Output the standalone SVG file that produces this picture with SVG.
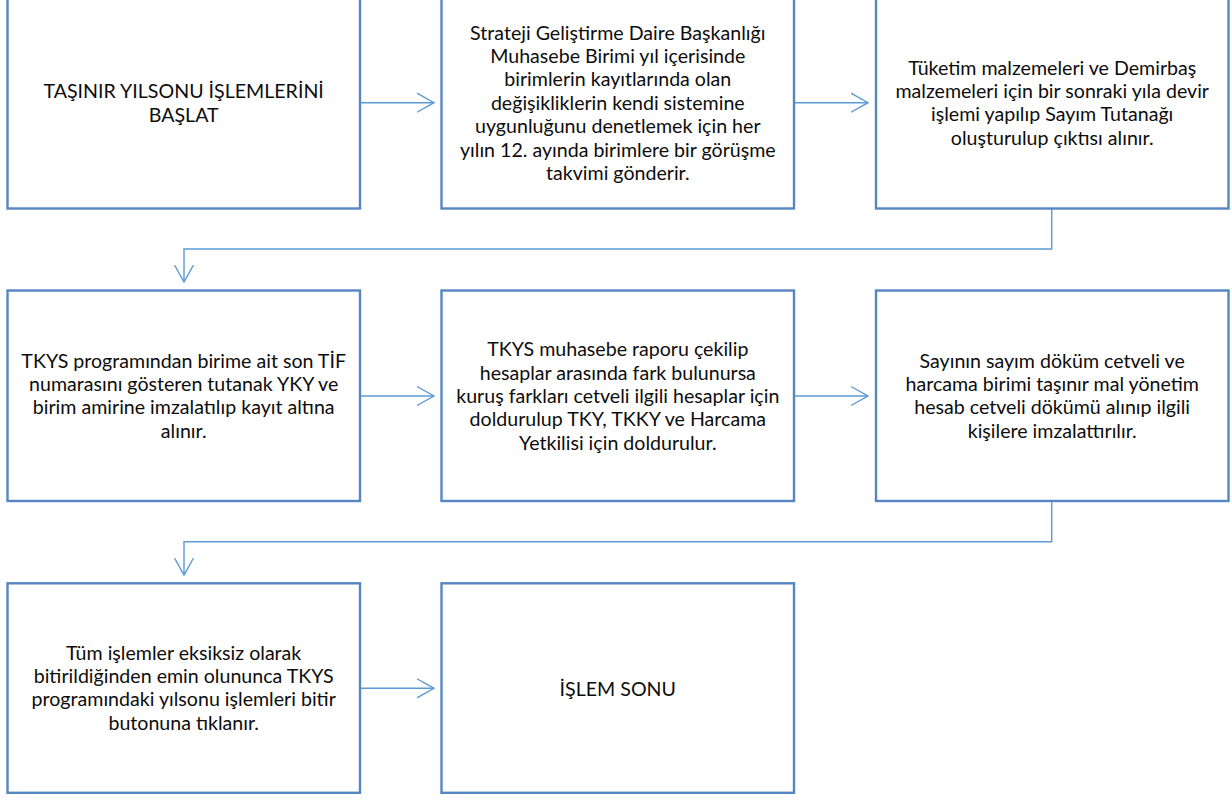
<svg xmlns="http://www.w3.org/2000/svg" width="1232" height="800" viewBox="0 0 1232 800">
<style>
.box{fill:#ffffff;stroke:#5585C3;stroke-width:2.4}
.t{font-family:Lato,"Liberation Sans",sans-serif;font-size:19.6px;fill:#0d0d0d;text-anchor:middle}
.c{fill:none;stroke:#5B9BD5;stroke-width:1.4}
</style>
<defs>
<marker id="ah" markerUnits="userSpaceOnUse" markerWidth="20" markerHeight="22" refX="17" refY="10" orient="auto" viewBox="0 0 20 20">
<path d="M0,0.5 L17,10 L0,19.5" fill="none" stroke="#5B9BD5" stroke-width="1.4"/>
</marker>
</defs>
<rect width="1232" height="800" fill="#ffffff"/>
<g id="connectors">
<path class="c" d="M360,102.7 H434" marker-end="url(#ah)"/>
<path class="c" d="M794,102.7 H868" marker-end="url(#ah)"/>
<path class="c" d="M1051.7,208.5 V249 H184 V282" marker-end="url(#ah)"/>
<path class="c" d="M360,396 H434" marker-end="url(#ah)"/>
<path class="c" d="M794,396 H868" marker-end="url(#ah)"/>
<path class="c" d="M1051.7,501 V541.7 H184 V575" marker-end="url(#ah)"/>
<path class="c" d="M360,688.3 H434" marker-end="url(#ah)"/>
</g>
<g id="n1">
<rect class="box" x="7.5" y="-2" width="352.5" height="210.5"/>
<text class="t" x="183.7" y="98.2"><tspan x="183.7">TAŞINIR YILSONU İŞLEMLERİNİ</tspan><tspan x="183.7" dy="23.4">BAŞLAT</tspan></text>
</g>
<g id="n2">
<rect class="box" x="441.5" y="-2" width="352.5" height="210.5"/>
<text class="t" x="617.8" y="39.6"><tspan x="617.8">Strateji Geliştirme Daire Başkanlığı</tspan><tspan x="617.8" dy="23.4">Muhasebe Birimi yıl içerisinde</tspan><tspan x="617.8" dy="23.4">birimlerin kayıtlarında olan</tspan><tspan x="617.8" dy="23.4">değişikliklerin kendi sistemine</tspan><tspan x="617.8" dy="23.4">uygunluğunu denetlemek için her</tspan><tspan x="617.8" dy="23.4">yılın 12. ayında birimlere bir görüşme</tspan><tspan x="617.8" dy="23.4">takvimi gönderir.</tspan></text>
</g>
<g id="n3">
<rect class="box" x="876" y="-2" width="352.5" height="210.5"/>
<text class="t" x="1052.2" y="74.6"><tspan x="1052.2">Tüketim malzemeleri ve Demirbaş</tspan><tspan x="1052.2" dy="23.4">malzemeleri için bir sonraki yıla devir</tspan><tspan x="1052.2" dy="23.4">işlemi yapılıp Sayım Tutanağı</tspan><tspan x="1052.2" dy="23.4">oluşturulup çıktısı alınır.</tspan></text>
</g>
<g id="n4">
<rect class="box" x="7.5" y="290.5" width="352.5" height="210.5"/>
<text class="t" x="183.7" y="367.5"><tspan x="183.7">TKYS programından birime ait son TİF</tspan><tspan x="183.7" dy="23.4">numarasını gösteren tutanak YKY ve</tspan><tspan x="183.7" dy="23.4">birim amirine imzalatılıp kayıt altına</tspan><tspan x="183.7" dy="23.4">alınır.</tspan></text>
</g>
<g id="n5">
<rect class="box" x="441.5" y="290.5" width="352.5" height="210.5"/>
<text class="t" x="617.8" y="356.2"><tspan x="617.8">TKYS muhasebe raporu çekilip</tspan><tspan x="617.8" dy="23.4">hesaplar arasında fark bulunursa</tspan><tspan x="617.8" dy="23.4">kuruş farkları cetveli ilgili hesaplar için</tspan><tspan x="617.8" dy="23.4">doldurulup TKY, TKKY ve Harcama</tspan><tspan x="617.8" dy="23.4">Yetkilisi için doldurulur.</tspan></text>
</g>
<g id="n6">
<rect class="box" x="876" y="290.5" width="352.5" height="210.5"/>
<text class="t" x="1052.2" y="367.5"><tspan x="1052.2">Sayının sayım döküm cetveli ve</tspan><tspan x="1052.2" dy="23.4">harcama birimi taşınır mal yönetim</tspan><tspan x="1052.2" dy="23.4">hesab cetveli dökümü alınıp ilgili</tspan><tspan x="1052.2" dy="23.4">kişilere imzalattırılır.</tspan></text>
</g>
<g id="n7">
<rect class="box" x="7.5" y="583.3" width="352.5" height="209.5"/>
<text class="t" x="183.7" y="659.6"><tspan x="183.7">Tüm işlemler eksiksiz olarak</tspan><tspan x="183.7" dy="23.4">bitirildiğinden emin olununca TKYS</tspan><tspan x="183.7" dy="23.4">programındaki yılsonu işlemleri bitir</tspan><tspan x="183.7" dy="23.4">butonuna tıklanır.</tspan></text>
</g>
<g id="n8">
<rect class="box" x="441.5" y="583.3" width="352.5" height="209.5"/>
<text class="t" x="617.8" y="695.7">İŞLEM SONU</text>
</g>
</svg>
